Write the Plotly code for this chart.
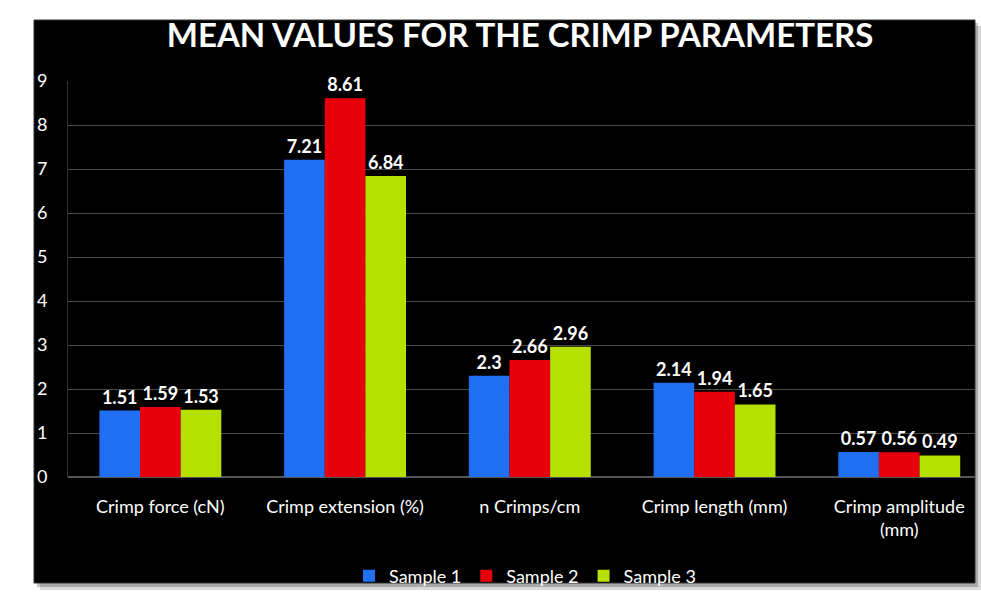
import plotly.graph_objects as go

categories = ["Crimp force (cN)", "Crimp extension (%)", "n Crimps/cm",
              "Crimp length (mm)", "Crimp amplitude<br>(mm)"]
sample1 = [1.51, 7.21, 2.3, 2.14, 0.57]
sample2 = [1.59, 8.61, 2.66, 1.94, 0.56]
sample3 = [1.53, 6.84, 2.96, 1.65, 0.49]
series_names = ["Sample 1", "Sample 2", "Sample 3"]
colors = ["#1f6ff0", "#e8000c", "#b6e000"]
y_ticks = [0, 1, 2, 3, 4, 5, 6, 7, 8, 9]

fig = go.Figure()
for name, vals, col in zip(series_names, [sample1, sample2, sample3], colors):
    fig.add_trace(go.Bar(
        x=categories, y=vals, name=name,
        marker=dict(color=col, line=dict(width=0)),
        text=[f"{v:g}" for v in vals], textposition="outside",
        textfont=dict(family="Lato", size=18, color="white"),
        texttemplate="<b>%{text}</b>", cliponaxis=False,
    ))

L, R, T, B = 68, 6, 81, 118
W, H = 981, 595
pw, ph = W - L - R, H - T - B

def px(x):
    return (x - L) / pw

def py(y):
    return (H - B - y) / ph

shapes = [
    # shadow
    dict(type="rect", xref="paper", yref="paper", layer="below",
         x0=px(40), x1=px(981), y0=py(590), y1=py(26),
         fillcolor="rgba(0,0,0,0.15)", line=dict(width=0)),
    dict(type="rect", xref="paper", yref="paper", layer="below",
         x0=px(37), x1=px(978), y0=py(587), y1=py(23),
         fillcolor="rgba(0,0,0,0.22)", line=dict(width=0)),
    # black panel
    dict(type="rect", xref="paper", yref="paper", layer="below",
         x0=px(34), x1=px(975), y0=py(583), y1=py(20),
         fillcolor="black", line=dict(color="#333", width=1)),
]

fig.update_layout(
    width=W, height=H,
    paper_bgcolor="white", plot_bgcolor="rgba(0,0,0,0)",
    margin=dict(l=L, r=R, t=T, b=B, autoexpand=False),
    barmode="group", bargap=0.34, bargroupgap=0,
    shapes=shapes,
    title=dict(text="<b>MEAN VALUES FOR THE CRIMP PARAMETERS</b>",
               x=px(520), xref="paper", xanchor="center",
               y=1 - 35 / H, yref="container", yanchor="middle",
               font=dict(family="Lato", size=33, color="white")),
    font=dict(family="Lato", color="white", size=18),
    legend=dict(orientation="h", x=px(525), xanchor="center",
                y=py(576), yanchor="middle", bgcolor="rgba(0,0,0,0)",
                font=dict(size=18, color="white"), itemwidth=30,
                traceorder="normal"),
    xaxis=dict(range=[-0.5, 4.41], showgrid=False, showline=False,
               ticks="", tickfont=dict(size=18, color="white"),
               ticklabelstandoff=17, automargin=False),
    yaxis=dict(range=[0, 9], tickvals=y_ticks, showgrid=True,
               gridcolor="#4a4a4a", gridwidth=1, zeroline=True,
               zerolinecolor="#555", showline=True, linecolor="#333",
               tickfont=dict(size=18, color="white"), ticks="",
               ticklabelstandoff=16, automargin=False),
    showlegend=True,
)

fig.write_html("out.html", config={"displayModeBar": False},
               post_script="document.body.style.margin='0';")
